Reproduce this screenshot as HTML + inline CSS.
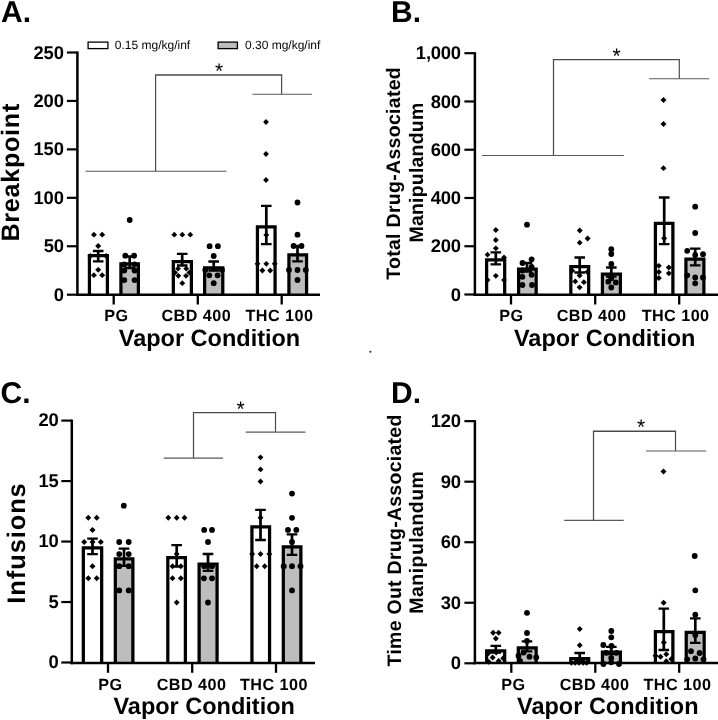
<!DOCTYPE html>
<html><head><meta charset="utf-8"><title>Figure</title>
<style>
html,body{margin:0;padding:0;background:#fff;}
body{width:718px;height:720px;overflow:hidden;font-family:"Liberation Sans", sans-serif;}
svg{display:block;will-change:transform;}
text{fill:#000;font-family:"Liberation Sans",sans-serif;text-rendering:geometricPrecision;}
</style></head><body>
<svg width="718" height="720" viewBox="0 0 718 720">
<rect width="718" height="720" fill="#fff"/>
<path d="M89.42 294.70V255.62H107.38V294.70" fill="#fff" stroke="#000" stroke-width="3.25"/>
<path d="M120.92 294.70V263.93H138.38V294.70" fill="#bdbdbd" stroke="#000" stroke-width="3.25"/>
<path d="M173.32 294.70V261.62H191.38V294.70" fill="#fff" stroke="#000" stroke-width="3.25"/>
<path d="M204.62 294.70V267.82H222.78V294.70" fill="#bdbdbd" stroke="#000" stroke-width="3.25"/>
<path d="M257.43 294.70V226.93H275.07V294.70" fill="#fff" stroke="#000" stroke-width="3.25"/>
<path d="M288.93 294.70V254.93H306.57V294.70" fill="#bdbdbd" stroke="#000" stroke-width="3.25"/>
<g stroke="#000" stroke-width="2" fill="none">
<path d="M98.2 251.0V261.3" stroke-width="2.7"/><path d="M92.9 251.0H103.5M92.9 261.3H103.5" stroke-width="2.3"/>
<path d="M129.7 256.5V268.0" stroke-width="2.7"/><path d="M124.4 256.5H135.0M124.4 268.0H135.0" stroke-width="2.3"/>
<path d="M182.2 253.9V265.5" stroke-width="2.7"/><path d="M176.9 253.9H187.5M176.9 265.5H187.5" stroke-width="2.3"/>
<path d="M213.7 261.5V270.5" stroke-width="2.7"/><path d="M208.4 261.5H219.0M208.4 270.5H219.0" stroke-width="2.3"/>
<path d="M266.3 205.8V244.1" stroke-width="2.7"/><path d="M261.0 205.8H271.6M261.0 244.1H271.6" stroke-width="2.3"/>
<path d="M297.5 246.0V261.3" stroke-width="2.7"/><path d="M292.2 246.0H302.8M292.2 261.3H302.8" stroke-width="2.3"/>
</g>
<g fill="#000">
<path d="M93.9 231.8L96.9 234.7L93.9 237.6L91.0 234.7Z"/>
<path d="M102.2 231.8L105.2 234.7L102.2 237.6L99.2 234.7Z"/>
<path d="M98.2 243.1L101.2 246.0L98.2 248.9L95.2 246.0Z"/>
<path d="M90.4 253.1L93.4 256.0L90.4 258.9L87.5 256.0Z"/>
<path d="M106.2 253.1L109.2 256.0L106.2 258.9L103.2 256.0Z"/>
<path d="M98.2 266.9L101.2 269.8L98.2 272.8L95.2 269.8Z"/>
<path d="M93.9 272.2L96.9 275.2L93.9 278.1L91.0 275.2Z"/>
<path d="M102.2 272.2L105.2 275.2L102.2 278.1L99.2 275.2Z"/>
<circle cx="129.7" cy="220.0" r="2.9"/>
<circle cx="125.3" cy="255.7" r="2.9"/>
<circle cx="134.1" cy="255.7" r="2.9"/>
<circle cx="124.3" cy="264.3" r="2.9"/>
<circle cx="134.6" cy="264.3" r="2.9"/>
<circle cx="124.3" cy="270.5" r="2.9"/>
<circle cx="134.6" cy="270.5" r="2.9"/>
<circle cx="124.3" cy="280.1" r="2.9"/>
<circle cx="134.6" cy="280.1" r="2.9"/>
<path d="M174.3 231.8L177.2 234.7L174.3 237.6L171.4 234.7Z"/>
<path d="M182.3 231.8L185.2 234.7L182.3 237.6L179.4 234.7Z"/>
<path d="M190.3 231.8L193.2 234.7L190.3 237.6L187.4 234.7Z"/>
<path d="M178.0 265.8L180.9 268.7L178.0 271.6L175.1 268.7Z"/>
<path d="M186.3 265.8L189.2 268.7L186.3 271.6L183.4 268.7Z"/>
<path d="M175.0 269.7L177.9 272.6L175.0 275.6L172.1 272.6Z"/>
<path d="M189.4 269.7L192.3 272.6L189.4 275.6L186.5 272.6Z"/>
<path d="M178.3 272.9L181.2 275.8L178.3 278.8L175.4 275.8Z"/>
<path d="M186.0 272.9L188.9 275.8L186.0 278.8L183.1 275.8Z"/>
<path d="M182.3 280.2L185.2 283.2L182.3 286.1L179.4 283.2Z"/>
<circle cx="209.6" cy="246.2" r="2.9"/>
<circle cx="217.9" cy="246.2" r="2.9"/>
<circle cx="213.7" cy="256.0" r="2.9"/>
<circle cx="205.3" cy="270.0" r="2.9"/>
<circle cx="222.0" cy="270.0" r="2.9"/>
<circle cx="209.3" cy="275.3" r="2.9"/>
<circle cx="217.6" cy="275.3" r="2.9"/>
<circle cx="213.7" cy="283.2" r="2.9"/>
<path d="M266.0 119.0L268.9 122.0L266.0 125.0L263.1 122.0Z"/>
<path d="M266.0 151.1L268.9 154.0L266.0 156.9L263.1 154.0Z"/>
<path d="M266.0 177.1L268.9 180.0L266.0 182.9L263.1 180.0Z"/>
<path d="M266.3 232.0L269.2 234.9L266.3 237.8L263.4 234.9Z"/>
<path d="M257.5 260.9L260.4 263.8L257.5 266.8L254.6 263.8Z"/>
<path d="M266.3 260.9L269.2 263.8L266.3 266.8L263.4 263.8Z"/>
<path d="M274.7 260.9L277.6 263.8L274.7 266.8L271.8 263.8Z"/>
<path d="M262.4 267.6L265.3 270.5L262.4 273.4L259.4 270.5Z"/>
<path d="M270.2 267.6L273.1 270.5L270.2 273.4L267.2 270.5Z"/>
<circle cx="297.5" cy="202.5" r="2.9"/>
<circle cx="297.5" cy="234.7" r="2.9"/>
<circle cx="293.6" cy="246.0" r="2.9"/>
<circle cx="301.5" cy="246.0" r="2.9"/>
<circle cx="289.0" cy="270.0" r="2.9"/>
<circle cx="297.5" cy="270.0" r="2.9"/>
<circle cx="305.8" cy="270.0" r="2.9"/>
<circle cx="297.5" cy="280.0" r="2.9"/>
</g>
<g stroke="#000" fill="none">
<path d="M77.40 51.50V295.95" stroke-width="2.5"/>
<path d="M76.15 294.70H320.00" stroke-width="2.5"/>
<path d="M66.90 294.70H77.40" stroke-width="2.2"/>
<path d="M66.90 246.26H77.40" stroke-width="2.2"/>
<path d="M66.90 197.82H77.40" stroke-width="2.2"/>
<path d="M66.90 149.38H77.40" stroke-width="2.2"/>
<path d="M66.90 100.94H77.40" stroke-width="2.2"/>
<path d="M66.90 52.50H77.40" stroke-width="2.2"/>
<path d="M113.70 294.70V304.50" stroke-width="2.3"/>
<path d="M197.80 294.70V304.50" stroke-width="2.3"/>
<path d="M281.70 294.70V304.50" stroke-width="2.3"/>
</g>
<g font-weight="700" font-size="18.4" text-anchor="end" letter-spacing="-0.2">
<text x="63.7" y="300.7">0</text>
<text x="63.7" y="252.3">50</text>
<text x="63.7" y="203.8">100</text>
<text x="63.7" y="155.4">150</text>
<text x="63.7" y="106.9">200</text>
<text x="63.7" y="58.5">250</text>
</g>
<g font-weight="700" font-size="16.2" text-anchor="middle" letter-spacing="0.45">
<text x="116.3" y="320.7" xml:space="preserve">PG</text>
<text x="196.3" y="320.7" xml:space="preserve">CBD 400</text>
<text x="279.5" y="320.7" xml:space="preserve">THC 100</text>
</g>
<text x="209.5" y="345.5" font-weight="700" font-size="23.5" text-anchor="middle">Vapor Condition</text>
<text transform="translate(19.4 172.3) rotate(-90)" font-weight="700" font-size="25.2" text-anchor="middle" letter-spacing="0.7">Breakpoint</text>
<text x="1.0" y="21.9" font-weight="700" font-size="30">A.</text>
<path d="M85.6 171.2H226.4" stroke="#585858" stroke-width="1.15" fill="none"/>
<path d="M155.6 171.2V75" stroke="#4c4c4c" stroke-width="1.2" fill="none"/>
<path d="M155 75H282.2" stroke="#4a4a4a" stroke-width="1.4" fill="none"/>
<path d="M281.6 75V94.2" stroke="#4c4c4c" stroke-width="1.2" fill="none"/>
<path d="M252.5 94.2H312" stroke="#585858" stroke-width="1.1" fill="none"/>
<text x="219.1" y="78.0" font-size="21" text-anchor="middle" fill="#111">*</text>
<path d="M486.62 294.70V259.93H504.68V294.70" fill="#fff" stroke="#000" stroke-width="3.25"/>
<path d="M518.62 294.70V269.12H536.17V294.70" fill="#bdbdbd" stroke="#000" stroke-width="3.25"/>
<path d="M570.83 294.70V266.62H588.67V294.70" fill="#fff" stroke="#000" stroke-width="3.25"/>
<path d="M602.42 294.70V274.12H620.38V294.70" fill="#bdbdbd" stroke="#000" stroke-width="3.25"/>
<path d="M655.42 294.70V223.32H672.88V294.70" fill="#fff" stroke="#000" stroke-width="3.25"/>
<path d="M685.92 294.70V259.12H703.88V294.70" fill="#bdbdbd" stroke="#000" stroke-width="3.25"/>
<g stroke="#000" stroke-width="2" fill="none">
<path d="M495.8 252.3V264.4" stroke-width="2.7"/><path d="M490.5 252.3H501.1M490.5 264.4H501.1" stroke-width="2.3"/>
<path d="M527.0 263.0V271.5" stroke-width="2.7"/><path d="M521.7 263.0H532.3M521.7 271.5H532.3" stroke-width="2.3"/>
<path d="M579.7 257.5V272.5" stroke-width="2.7"/><path d="M574.4 257.5H585.0M574.4 272.5H585.0" stroke-width="2.3"/>
<path d="M611.3 267.5V276.7" stroke-width="2.7"/><path d="M606.0 267.5H616.6M606.0 276.7H616.6" stroke-width="2.3"/>
<path d="M664.2 197.5V244.2" stroke-width="2.7"/><path d="M658.9 197.5H669.5M658.9 244.2H669.5" stroke-width="2.3"/>
<path d="M695.2 248.7V265.3" stroke-width="2.7"/><path d="M689.9 248.7H700.5M689.9 265.3H700.5" stroke-width="2.3"/>
</g>
<g fill="#000">
<path d="M495.8 227.1L498.8 230.0L495.8 232.9L492.9 230.0Z"/>
<path d="M495.8 237.1L498.8 240.0L495.8 242.9L492.9 240.0Z"/>
<path d="M495.8 245.4L498.8 248.3L495.8 251.2L492.9 248.3Z"/>
<path d="M487.5 251.8L490.4 254.7L487.5 257.6L484.6 254.7Z"/>
<path d="M504.0 254.6L506.9 257.5L504.0 260.4L501.1 257.5Z"/>
<path d="M495.8 272.9L498.8 275.8L495.8 278.8L492.9 275.8Z"/>
<path d="M487.5 277.1L490.4 280.0L487.5 282.9L484.6 280.0Z"/>
<path d="M504.0 277.1L506.9 280.0L504.0 282.9L501.1 280.0Z"/>
<circle cx="527.0" cy="224.7" r="2.9"/>
<circle cx="531.6" cy="259.3" r="2.9"/>
<circle cx="522.5" cy="263.0" r="2.9"/>
<circle cx="531.6" cy="267.0" r="2.9"/>
<circle cx="522.4" cy="270.5" r="2.9"/>
<circle cx="531.6" cy="274.8" r="2.9"/>
<circle cx="522.4" cy="276.8" r="2.9"/>
<circle cx="522.4" cy="285.0" r="2.9"/>
<circle cx="532.0" cy="285.0" r="2.9"/>
<path d="M579.7 227.6L582.7 230.5L579.7 233.4L576.8 230.5Z"/>
<path d="M587.6 235.6L590.6 238.5L587.6 241.4L584.6 238.5Z"/>
<path d="M579.7 239.8L582.7 242.7L579.7 245.6L576.8 242.7Z"/>
<path d="M572.2 267.8L575.2 270.7L572.2 273.6L569.2 270.7Z"/>
<path d="M587.3 269.1L590.2 272.0L587.3 274.9L584.3 272.0Z"/>
<path d="M579.6 272.6L582.6 275.5L579.6 278.4L576.6 275.5Z"/>
<path d="M575.3 278.4L578.2 281.4L575.3 284.3L572.3 281.4Z"/>
<path d="M583.9 279.2L586.9 282.2L583.9 285.1L580.9 282.2Z"/>
<path d="M579.6 284.4L582.6 287.3L579.6 290.2L576.6 287.3Z"/>
<circle cx="611.3" cy="249.2" r="2.9"/>
<circle cx="611.3" cy="254.0" r="2.9"/>
<circle cx="611.3" cy="263.9" r="2.9"/>
<circle cx="611.3" cy="278.3" r="2.9"/>
<circle cx="608.3" cy="281.7" r="2.9"/>
<circle cx="615.8" cy="282.5" r="2.9"/>
<circle cx="611.3" cy="287.5" r="2.9"/>
<path d="M663.5 97.0L666.5 100.0L663.5 103.0L660.5 100.0Z"/>
<path d="M663.5 121.0L666.5 124.0L663.5 127.0L660.5 124.0Z"/>
<path d="M663.5 165.2L666.5 168.2L663.5 171.1L660.5 168.2Z"/>
<path d="M664.2 235.4L667.2 238.3L664.2 241.2L661.2 238.3Z"/>
<path d="M658.8 262.9L661.8 265.8L658.8 268.8L655.8 265.8Z"/>
<path d="M668.8 264.6L671.8 267.5L668.8 270.4L665.8 267.5Z"/>
<path d="M658.8 269.1L661.8 272.0L658.8 274.9L655.8 272.0Z"/>
<path d="M668.8 270.4L671.8 273.3L668.8 276.2L665.8 273.3Z"/>
<path d="M658.8 275.1L661.8 278.0L658.8 280.9L655.8 278.0Z"/>
<circle cx="695.2" cy="206.7" r="2.9"/>
<circle cx="695.2" cy="233.0" r="2.9"/>
<circle cx="687.2" cy="250.8" r="2.9"/>
<circle cx="703.0" cy="254.2" r="2.9"/>
<circle cx="695.2" cy="255.0" r="2.9"/>
<circle cx="687.2" cy="275.3" r="2.9"/>
<circle cx="703.0" cy="277.5" r="2.9"/>
<circle cx="695.2" cy="277.5" r="2.9"/>
<circle cx="695.2" cy="283.3" r="2.9"/>
</g>
<g stroke="#000" fill="none">
<path d="M474.90 52.20V295.95" stroke-width="2.5"/>
<path d="M473.65 294.70H718.00" stroke-width="2.5"/>
<path d="M464.40 294.50H474.90" stroke-width="2.2"/>
<path d="M464.40 246.24H474.90" stroke-width="2.2"/>
<path d="M464.40 197.98H474.90" stroke-width="2.2"/>
<path d="M464.40 149.72H474.90" stroke-width="2.2"/>
<path d="M464.40 101.46H474.90" stroke-width="2.2"/>
<path d="M464.40 53.20H474.90" stroke-width="2.2"/>
<path d="M511.00 294.70V304.50" stroke-width="2.3"/>
<path d="M595.20 294.70V304.50" stroke-width="2.3"/>
<path d="M679.20 294.70V304.50" stroke-width="2.3"/>
</g>
<g font-weight="700" font-size="18.4" text-anchor="end" letter-spacing="-0.2">
<text x="460.9" y="300.5">0</text>
<text x="460.9" y="252.2">200</text>
<text x="460.9" y="204.0">400</text>
<text x="460.9" y="155.7">600</text>
<text x="460.9" y="107.5">800</text>
<text x="460.9" y="59.2">1,000</text>
</g>
<g font-weight="700" font-size="16.2" text-anchor="middle" letter-spacing="0.45">
<text x="511.3" y="320.9" xml:space="preserve">PG</text>
<text x="591.5" y="320.9" xml:space="preserve">CBD 400</text>
<text x="675.6" y="320.9" xml:space="preserve">THC 100</text>
</g>
<text x="604.7" y="345.5" font-weight="700" font-size="23.5" text-anchor="middle">Vapor Condition</text>
<text transform="translate(400.3 173.4) rotate(-90)" font-weight="700" font-size="19.5" text-anchor="middle" letter-spacing="0.3">Total Drug-Associated</text>
<text transform="translate(423.0 172.5) rotate(-90)" font-weight="700" font-size="19.5" text-anchor="middle" letter-spacing="0.2">Manipulandum</text>
<text x="391.0" y="21.9" font-weight="700" font-size="30">B.</text>
<path d="M482 155.5H623.7" stroke="#585858" stroke-width="1.15" fill="none"/>
<path d="M553.5 155.5V59.6" stroke="#4c4c4c" stroke-width="1.25" fill="none"/>
<path d="M552.9 59.6H679.9" stroke="#4a4a4a" stroke-width="1.25" fill="none"/>
<path d="M679.3 59.6V78.8" stroke="#4c4c4c" stroke-width="1.2" fill="none"/>
<path d="M649.2 78.8H709.2" stroke="#585858" stroke-width="1.1" fill="none"/>
<text x="616.6" y="62.6" font-size="21" text-anchor="middle" fill="#111">*</text>
<path d="M83.33 663.00V547.92H101.67V663.00" fill="#fff" stroke="#000" stroke-width="3.25"/>
<path d="M115.33 663.00V558.83H132.88V663.00" fill="#bdbdbd" stroke="#000" stroke-width="3.25"/>
<path d="M167.82 663.00V557.52H185.38V663.00" fill="#fff" stroke="#000" stroke-width="3.25"/>
<path d="M199.12 663.00V564.02H217.07V663.00" fill="#bdbdbd" stroke="#000" stroke-width="3.25"/>
<path d="M251.93 663.00V526.83H269.57V663.00" fill="#fff" stroke="#000" stroke-width="3.25"/>
<path d="M283.32 663.00V546.92H300.88V663.00" fill="#bdbdbd" stroke="#000" stroke-width="3.25"/>
<g stroke="#000" stroke-width="2" fill="none">
<path d="M92.5 538.6V554.2" stroke-width="2.7"/><path d="M87.2 538.6H97.8M87.2 554.2H97.8" stroke-width="2.3"/>
<path d="M124.0 548.6V565.8" stroke-width="2.7"/><path d="M118.7 548.6H129.3M118.7 565.8H129.3" stroke-width="2.3"/>
<path d="M176.7 545.2V566.5" stroke-width="2.7"/><path d="M171.4 545.2H182.0M171.4 566.5H182.0" stroke-width="2.3"/>
<path d="M208.0 554.0V570.8" stroke-width="2.7"/><path d="M202.7 554.0H213.3M202.7 570.8H213.3" stroke-width="2.3"/>
<path d="M260.5 509.8V540.0" stroke-width="2.7"/><path d="M255.2 509.8H265.8M255.2 540.0H265.8" stroke-width="2.3"/>
<path d="M292.0 534.4V554.8" stroke-width="2.7"/><path d="M286.7 534.4H297.3M286.7 554.8H297.3" stroke-width="2.3"/>
</g>
<g fill="#000">
<path d="M88.3 514.8L91.2 517.8L88.3 520.8L85.3 517.8Z"/>
<path d="M96.7 514.8L99.7 517.8L96.7 520.8L93.8 517.8Z"/>
<path d="M92.5 526.9L95.5 529.9L92.5 532.9L89.5 529.9Z"/>
<path d="M84.2 539.0L87.2 542.0L84.2 545.0L81.2 542.0Z"/>
<path d="M92.5 539.0L95.5 542.0L92.5 545.0L89.5 542.0Z"/>
<path d="M100.8 539.0L103.8 542.0L100.8 545.0L97.8 542.0Z"/>
<path d="M92.5 563.2L95.5 566.2L92.5 569.2L89.5 566.2Z"/>
<path d="M88.3 575.3L91.2 578.3L88.3 581.2L85.3 578.3Z"/>
<path d="M96.7 575.3L99.7 578.3L96.7 581.2L93.8 578.3Z"/>
<circle cx="123.8" cy="505.7" r="2.9"/>
<circle cx="119.2" cy="542.0" r="2.9"/>
<circle cx="128.7" cy="542.0" r="2.9"/>
<circle cx="119.2" cy="554.1" r="2.9"/>
<circle cx="128.7" cy="554.1" r="2.9"/>
<circle cx="119.2" cy="566.2" r="2.9"/>
<circle cx="128.7" cy="566.2" r="2.9"/>
<circle cx="119.2" cy="590.4" r="2.9"/>
<circle cx="128.7" cy="590.4" r="2.9"/>
<path d="M168.3 514.8L171.2 517.8L168.3 520.8L165.4 517.8Z"/>
<path d="M176.7 514.8L179.6 517.8L176.7 520.8L173.8 517.8Z"/>
<path d="M184.5 514.8L187.4 517.8L184.5 520.8L181.6 517.8Z"/>
<path d="M176.7 551.1L179.6 554.1L176.7 557.1L173.8 554.1Z"/>
<path d="M172.5 563.2L175.4 566.2L172.5 569.2L169.6 566.2Z"/>
<path d="M180.8 563.2L183.8 566.2L180.8 569.2L177.9 566.2Z"/>
<path d="M172.5 575.3L175.4 578.3L172.5 581.2L169.6 578.3Z"/>
<path d="M180.8 575.3L183.8 578.3L180.8 581.2L177.9 578.3Z"/>
<path d="M176.7 599.5L179.6 602.5L176.7 605.5L173.8 602.5Z"/>
<circle cx="204.2" cy="529.9" r="2.9"/>
<circle cx="212.0" cy="529.9" r="2.9"/>
<circle cx="208.0" cy="542.0" r="2.9"/>
<circle cx="204.2" cy="566.2" r="2.9"/>
<circle cx="212.0" cy="566.2" r="2.9"/>
<circle cx="203.9" cy="578.3" r="2.9"/>
<circle cx="212.0" cy="578.3" r="2.9"/>
<circle cx="208.0" cy="602.5" r="2.9"/>
<path d="M260.5 454.4L263.4 457.3L260.5 460.2L257.6 457.3Z"/>
<path d="M260.5 466.4L263.4 469.4L260.5 472.3L257.6 469.4Z"/>
<path d="M260.5 478.6L263.4 481.5L260.5 484.4L257.6 481.5Z"/>
<path d="M260.5 514.8L263.4 517.8L260.5 520.8L257.6 517.8Z"/>
<path d="M252.2 551.1L255.1 554.1L252.2 557.1L249.2 554.1Z"/>
<path d="M260.5 551.1L263.4 554.1L260.5 557.1L257.6 554.1Z"/>
<path d="M269.3 551.1L272.2 554.1L269.3 557.1L266.4 554.1Z"/>
<path d="M256.7 563.2L259.6 566.2L256.7 569.2L253.8 566.2Z"/>
<path d="M264.7 563.2L267.6 566.2L264.7 569.2L261.8 566.2Z"/>
<circle cx="292.0" cy="493.6" r="2.9"/>
<circle cx="292.0" cy="517.8" r="2.9"/>
<circle cx="288.0" cy="529.9" r="2.9"/>
<circle cx="296.3" cy="529.9" r="2.9"/>
<circle cx="292.0" cy="542.0" r="2.9"/>
<circle cx="283.7" cy="566.2" r="2.9"/>
<circle cx="292.0" cy="566.2" r="2.9"/>
<circle cx="300.5" cy="566.2" r="2.9"/>
<circle cx="292.0" cy="590.4" r="2.9"/>
</g>
<g stroke="#000" fill="none">
<path d="M71.80 419.60V664.25" stroke-width="2.5"/>
<path d="M70.55 663.00H315.00" stroke-width="2.5"/>
<path d="M61.30 662.50H71.80" stroke-width="2.2"/>
<path d="M61.30 602.02H71.80" stroke-width="2.2"/>
<path d="M61.30 541.55H71.80" stroke-width="2.2"/>
<path d="M61.30 481.07H71.80" stroke-width="2.2"/>
<path d="M61.30 420.60H71.80" stroke-width="2.2"/>
<path d="M108.00 663.00V672.80" stroke-width="2.3"/>
<path d="M192.20 663.00V672.80" stroke-width="2.3"/>
<path d="M276.00 663.00V672.80" stroke-width="2.3"/>
</g>
<g font-weight="700" font-size="18.4" text-anchor="end" letter-spacing="-0.2">
<text x="58.5" y="668.0">0</text>
<text x="58.5" y="607.5">5</text>
<text x="58.5" y="547.0">10</text>
<text x="58.5" y="486.6">15</text>
<text x="58.5" y="426.1">20</text>
</g>
<g font-weight="700" font-size="16.2" text-anchor="middle" letter-spacing="0.45">
<text x="110.4" y="689.5" xml:space="preserve">PG</text>
<text x="191.5" y="689.5" xml:space="preserve">CBD 400</text>
<text x="274.0" y="689.5" xml:space="preserve">THC 100</text>
</g>
<text x="204.2" y="714.4" font-weight="700" font-size="23.5" text-anchor="middle">Vapor Condition</text>
<text transform="translate(24.6 543.0) rotate(-90)" font-weight="700" font-size="25.4" text-anchor="middle" letter-spacing="0.95">Infusions</text>
<text x="0.5" y="402.7" font-weight="700" font-size="30">C.</text>
<path d="M163.7 458.1H223" stroke="#585858" stroke-width="1.15" fill="none"/>
<path d="M193.5 458.1V412.6" stroke="#4c4c4c" stroke-width="1.25" fill="none"/>
<path d="M192.9 412.6H276.1" stroke="#4a4a4a" stroke-width="1.25" fill="none"/>
<path d="M275.5 412.6V432" stroke="#4c4c4c" stroke-width="1.2" fill="none"/>
<path d="M245.7 432H305.5" stroke="#585858" stroke-width="1.25" fill="none"/>
<text x="240.5" y="415.5" font-size="21" text-anchor="middle" fill="#111">*</text>
<path d="M486.62 663.00V650.83H504.68V663.00" fill="#fff" stroke="#000" stroke-width="3.25"/>
<path d="M518.33 663.00V647.92H536.17V663.00" fill="#bdbdbd" stroke="#000" stroke-width="3.25"/>
<path d="M570.83 663.00V658.52H588.67V663.00" fill="#fff" stroke="#000" stroke-width="3.25"/>
<path d="M602.42 663.00V652.12H620.38V663.00" fill="#bdbdbd" stroke="#000" stroke-width="3.25"/>
<path d="M655.42 663.00V631.62H672.88V663.00" fill="#fff" stroke="#000" stroke-width="3.25"/>
<path d="M686.23 663.00V632.42H704.17V663.00" fill="#bdbdbd" stroke="#000" stroke-width="3.25"/>
<g stroke="#000" stroke-width="2" fill="none">
<path d="M495.8 645.8V652.6" stroke-width="2.7"/><path d="M490.5 645.8H501.1M490.5 652.6H501.1" stroke-width="2.3"/>
<path d="M527.0 641.3V651.3" stroke-width="2.7"/><path d="M521.7 641.3H532.3M521.7 651.3H532.3" stroke-width="2.3"/>
<path d="M579.7 653.0V660.8" stroke-width="2.7"/><path d="M574.4 653.0H585.0M574.4 660.8H585.0" stroke-width="2.3"/>
<path d="M611.3 646.8V654.2" stroke-width="2.7"/><path d="M606.0 646.8H616.6M606.0 654.2H616.6" stroke-width="2.3"/>
<path d="M663.8 608.7V650.0" stroke-width="2.7"/><path d="M658.5 608.7H669.1M658.5 650.0H669.1" stroke-width="2.3"/>
<path d="M695.3 618.3V642.8" stroke-width="2.7"/><path d="M690.0 618.3H700.6M690.0 642.8H700.6" stroke-width="2.3"/>
</g>
<g fill="#000">
<path d="M493.1 629.8L496.1 632.8L493.1 635.8L490.2 632.8Z"/>
<path d="M498.6 629.8L501.6 632.8L498.6 635.8L495.7 632.8Z"/>
<path d="M495.8 635.5L498.8 638.5L495.8 641.5L492.9 638.5Z"/>
<path d="M496.2 649.6L499.1 652.6L496.2 655.6L493.2 652.6Z"/>
<path d="M492.6 654.5L495.6 657.5L492.6 660.5L489.7 657.5Z"/>
<path d="M503.2 655.3L506.1 658.3L503.2 661.2L500.2 658.3Z"/>
<path d="M498.6 658.0L501.6 661.0L498.6 664.0L495.7 661.0Z"/>
<path d="M488.6 658.8L491.6 661.8L488.6 664.8L485.7 661.8Z"/>
<path d="M488.4 650.2L491.3 653.2L488.4 656.2L485.4 653.2Z"/>
<circle cx="527.0" cy="612.8" r="2.9"/>
<circle cx="527.0" cy="633.0" r="2.9"/>
<circle cx="527.0" cy="641.0" r="2.9"/>
<circle cx="523.6" cy="652.5" r="2.9"/>
<circle cx="529.5" cy="656.7" r="2.9"/>
<circle cx="518.5" cy="655.7" r="2.9"/>
<circle cx="520.0" cy="661.0" r="2.9"/>
<circle cx="536.3" cy="657.3" r="2.9"/>
<path d="M579.7 625.9L582.7 628.9L579.7 631.9L576.8 628.9Z"/>
<path d="M579.7 642.2L582.7 645.2L579.7 648.2L576.8 645.2Z"/>
<path d="M571.4 659.8L574.4 662.8L571.4 665.8L568.4 662.8Z"/>
<path d="M575.2 659.8L578.2 662.8L575.2 665.8L572.2 662.8Z"/>
<path d="M579.0 659.8L582.0 662.8L579.0 665.8L576.0 662.8Z"/>
<path d="M583.2 659.8L586.2 662.8L583.2 665.8L580.2 662.8Z"/>
<path d="M586.6 659.8L589.6 662.8L586.6 665.8L583.6 662.8Z"/>
<circle cx="611.3" cy="631.0" r="2.9"/>
<circle cx="611.3" cy="637.3" r="2.9"/>
<circle cx="603.3" cy="645.0" r="2.9"/>
<circle cx="611.5" cy="646.0" r="2.9"/>
<circle cx="606.0" cy="652.8" r="2.9"/>
<circle cx="616.5" cy="652.8" r="2.9"/>
<circle cx="611.2" cy="658.0" r="2.9"/>
<circle cx="611.2" cy="662.3" r="2.9"/>
<circle cx="603.4" cy="664.0" r="2.9"/>
<circle cx="619.0" cy="664.0" r="2.9"/>
<path d="M663.5 468.6L666.5 471.5L663.5 474.4L660.5 471.5Z"/>
<path d="M663.6 599.8L666.6 602.8L663.6 605.8L660.6 602.8Z"/>
<path d="M663.8 639.5L666.8 642.5L663.8 645.5L660.8 642.5Z"/>
<path d="M660.5 653.8L663.5 656.7L660.5 659.7L657.5 656.7Z"/>
<path d="M666.3 651.2L669.2 654.2L666.3 657.2L663.3 654.2Z"/>
<path d="M655.5 652.8L658.5 655.8L655.5 658.8L652.5 655.8Z"/>
<path d="M666.3 658.3L669.2 661.3L666.3 664.2L663.3 661.3Z"/>
<path d="M671.3 656.0L674.2 659.0L671.3 662.0L668.3 659.0Z"/>
<circle cx="694.7" cy="556.0" r="2.9"/>
<circle cx="695.3" cy="590.3" r="2.9"/>
<circle cx="695.3" cy="614.7" r="2.9"/>
<circle cx="695.3" cy="635.0" r="2.9"/>
<circle cx="691.0" cy="651.2" r="2.9"/>
<circle cx="699.6" cy="653.0" r="2.9"/>
<circle cx="695.3" cy="658.5" r="2.9"/>
<circle cx="687.2" cy="659.3" r="2.9"/>
<circle cx="703.5" cy="659.3" r="2.9"/>
</g>
<g stroke="#000" fill="none">
<path d="M474.90 420.10V664.25" stroke-width="2.5"/>
<path d="M473.65 663.00H718.00" stroke-width="2.5"/>
<path d="M464.40 663.30H474.90" stroke-width="2.2"/>
<path d="M464.40 602.76H474.90" stroke-width="2.2"/>
<path d="M464.40 542.22H474.90" stroke-width="2.2"/>
<path d="M464.40 481.68H474.90" stroke-width="2.2"/>
<path d="M464.40 421.14H474.90" stroke-width="2.2"/>
<path d="M511.30 663.00V672.80" stroke-width="2.3"/>
<path d="M595.30 663.00V672.80" stroke-width="2.3"/>
<path d="M679.20 663.00V672.80" stroke-width="2.3"/>
</g>
<g font-weight="700" font-size="18.4" text-anchor="end" letter-spacing="-0.2">
<text x="460.9" y="669.3">0</text>
<text x="460.9" y="608.8">30</text>
<text x="460.9" y="548.2">60</text>
<text x="460.9" y="487.7">90</text>
<text x="460.9" y="427.1">120</text>
</g>
<g font-weight="700" font-size="16.2" text-anchor="middle" letter-spacing="0.45">
<text x="513.5" y="689.9" xml:space="preserve">PG</text>
<text x="594.5" y="689.9" xml:space="preserve">CBD 400</text>
<text x="677.4" y="689.9" xml:space="preserve">THC 100</text>
</g>
<text x="607.8" y="714.4" font-weight="700" font-size="23.5" text-anchor="middle">Vapor Condition</text>
<text transform="translate(400.6 540.4) rotate(-90)" font-weight="700" font-size="19.5" text-anchor="middle" letter-spacing="0.27">Time Out Drug-Associated</text>
<text transform="translate(423.0 542.2) rotate(-90)" font-weight="700" font-size="19.5" text-anchor="middle" letter-spacing="0.45">Manipulandum</text>
<text x="391.0" y="403.3" font-weight="700" font-size="30">D.</text>
<path d="M564.2 520.3H623.7" stroke="#585858" stroke-width="1.15" fill="none"/>
<path d="M593.5 520.3V431.3" stroke="#4c4c4c" stroke-width="1.25" fill="none"/>
<path d="M592.9 431.3H676.1" stroke="#4a4a4a" stroke-width="1.4" fill="none"/>
<path d="M675.5 431.3V451" stroke="#4c4c4c" stroke-width="1.2" fill="none"/>
<path d="M646 451H706.2" stroke="#585858" stroke-width="1.1" fill="none"/>
<text x="641.0" y="434.3" font-size="21" text-anchor="middle" fill="#111">*</text>
<rect x="88.1" y="42.1" width="19.8" height="6.5" fill="#fff" stroke="#000" stroke-width="1.3"/>
<rect x="218.1" y="42.1" width="19.3" height="6.5" fill="#bdbdbd" stroke="#000" stroke-width="1.3"/>
<text x="114.8" y="48.9" font-size="12" fill="#333">0.15 mg/kg/inf</text>
<text x="245" y="48.9" font-size="12" fill="#333">0.30 mg/kg/inf</text>
<circle cx="370.4" cy="351.8" r="1" fill="#222"/>
</svg>
</body></html>
